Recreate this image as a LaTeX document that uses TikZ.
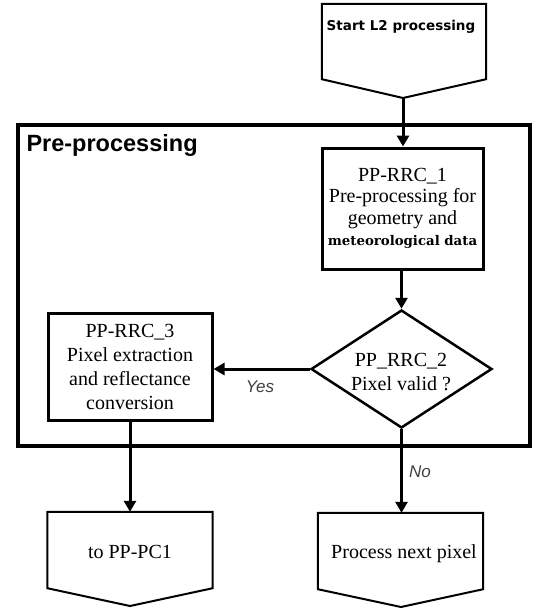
\documentclass[tikz,border=0pt]{standalone}
\usepackage{fontspec}
\setmainfont{Liberation Serif}
\newfontfamily\hdrfont{Liberation Sans}
\newfontfamily\vsans{DejaVu Sans}
\newfontfamily\vserif{DejaVu Serif}
\usetikzlibrary{arrows.meta,shapes.geometric,calc}
\begin{document}
\begin{tikzpicture}[x=1pt,y=-1pt,
  procbox/.style={draw,line width=3pt,align=center,inner sep=0pt,font=\fontsize{20}{24}\selectfont},
  termbox/.style={inner sep=0pt,align=center},
  termline/.style={line width=2pt,line join=miter},
  flow/.style={line width=3pt,-{Triangle[length=11pt,width=12pt]}},
  lbl/.style={font=\hdrfont\itshape\fontsize{17}{17}\selectfont,text=black!75}]
\useasboundingbox (0,0) rectangle (538,615);
% frame
\node[draw,line width=4.5pt,minimum width=512pt,minimum height=321pt,inner sep=0pt] (frame) at (274,285.5) {};
\node[anchor=west,font=\hdrfont\bfseries\fontsize{23.5}{24}\selectfont] (hdr) at (23,145) {Pre-processing};
% start
\node[termbox,minimum width=164pt,minimum height=75pt] (start) at (404,41.5) {};
\coordinate (starttip) at (403,98);
\draw[termline] (start.north west) -- (start.north east) -- (start.south east) -- (starttip) -- (start.south west) -- cycle;
\node[font=\vsans\bfseries\fontsize{13.5}{16}\selectfont] (starttxt) at (401,27) {Start L2 processing};
% box1
\node[procbox,minimum width=161pt,minimum height=121pt,font=\fontsize{20}{21.5}\selectfont] (b1) at (402.5,208.5) {PP-RRC\_1\\Pre-processing for\\geometry and\\{\vserif\bfseries\fontsize{13.3}{21.5}\selectfont meteorological data}};
% diamond
\node[draw,line width=2.5pt,diamond,minimum width=181pt,minimum height=118pt,inner sep=0pt,aspect=1.53] (d) at (401.5,369) {};
\node[align=center,font=\fontsize{20}{24}\selectfont] (dtxt) at (401,372) {PP\_RRC\_2\\Pixel valid ?};
% box3
\node[procbox,minimum width=164pt,minimum height=107pt] (b3) at (130,366.5) {PP-RRC\_3\\Pixel extraction\\and reflectance\\conversion};
% bottom left terminal
\node[termbox,minimum width=165pt,minimum height=76pt] (t1) at (130,550) {};
\coordinate (t1tip) at (130,606);
\draw[termline] (t1.north west) -- (t1.north east) -- (t1.south east) -- (t1tip) -- (t1.south west) -- cycle;
\node[font=\fontsize{20}{24}\selectfont] (t1txt) at (130,552) {to PP-PC1};
% bottom right terminal
\node[termbox,minimum width=165pt,minimum height=76pt] (t2) at (400.5,551) {};
\coordinate (t2tip) at (401,607);
\draw[termline] (t2.north west) -- (t2.north east) -- (t2.south east) -- (t2tip) -- (t2.south west) -- cycle;
\node[font=\fontsize{20}{24}\selectfont] (t2txt) at (404,554) {Process next pixel};
% connectors
\draw[flow] (starttip) -- (starttip |- b1.north);
\draw[flow] (b1.south -| d.north) -- (d.north);
\draw[flow] (d.west) -- (b3.east |- d.west);
\draw[flow] (b3.south) -- (t1.north);
\draw[flow] (d.south) -- (d.south |- t2.north);
\node[lbl] (yes) at (260,387) {Yes};
\node[lbl] (no) at (420,472) {No};
\end{tikzpicture}
\end{document}
